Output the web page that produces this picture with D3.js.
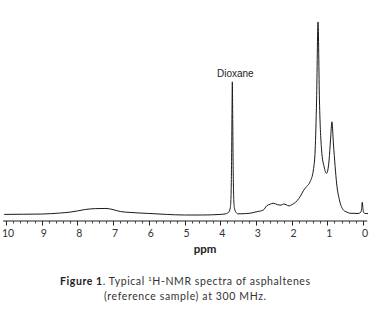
<!DOCTYPE html>
<html>
<head>
<meta charset="utf-8">
<script src="https://cdn.jsdelivr.net/npm/d3@7"></script>
<style>
  html, body { margin: 0; padding: 0; background: #fff; }
  svg { display: block; }
</style>
</head>
<body>
<svg id="chart" width="379" height="315"></svg>
<script>
// ---- data ----
const ppm = [10.05, 9.5, 9.0, 8.5, 8.2, 8.0, 7.8, 7.5, 7.2, 7.0, 6.8, 6.5, 6.0, 5.5, 5.0, 4.5, 4.0, 3.85,
  3.76, 3.72, 3.70, 3.68, 3.67, 3.66, 3.65, 3.64, 3.62, 3.60, 3.56, 3.50,
  3.3, 3.17, 3.0, 2.79, 2.70, 2.60, 2.51, 2.40, 2.30, 2.22, 2.15, 2.07, 2.00, 1.90, 1.80, 1.76, 1.67, 1.58, 1.48,
  1.39, 1.34, 1.30, 1.26, 1.22, 1.16, 1.09, 1.02, 0.95, 0.91, 0.87, 0.83, 0.78, 0.74, 0.66, 0.55, 0.45, 0.36,
  0.14, 0.06, 0.04, 0.02, 0.00, -0.02, -0.06, -0.14];
const intensity = [0.3, 0.4, 0.5, 1.0, 1.5, 2.1, 2.8, 3.3, 3.4, 2.8, 1.8, 1.3, 0.8, 0.3, 0.0, 0.0, 0.3, 0.6,
  1.5, 3.5, 8, 30, 52, 69, 52, 30, 8, 3.5, 1.5, 0.6,
  0.7, 0.9, 1.6, 2.6, 4.7, 5.6, 6.1, 5.4, 5.1, 5.7, 5.3, 4.7, 5.3, 6.4, 8.5, 9.5, 12.6, 14.7, 17.3,
  23.3, 33.7, 59.6, 100, 59.6, 33.7, 25.0, 21.6, 28.5, 38.9, 48.3, 37.3, 25.0, 16.6, 7.8, 2.6, 1.5, 0.9,
  0.8, 1.5, 3, 6.6, 3, 1.2, 0.8, 0.7];
const tickValues = [10, 9, 8, 7, 6, 5, 4, 3, 2, 1, 0];
const tickLabels = ["10", "9", "8", "7", "6", "5", "4", "3", "2", "1", "0"];
const peakLabel = { text: "Dioxane", ppm: 3.66, intensity: 69 };
const axisTitle = "ppm";

// ---- drawing ----
const svg = d3.select("#chart");
const x = d3.scaleLinear().domain([10, 0]).range([6, 363]);
const y = d3.scaleLinear().domain([0, 100]).range([215, 22]);
const axisY = 221;

const data = ppm.map((p, i) => ({ p, v: intensity[i] }));

svg.append("path")
  .datum(data)
  .attr("fill", "none")
  .attr("stroke", "#1a1a1a")
  .attr("stroke-width", 1)
  .attr("d", d3.line().x(d => x(d.p)).y(d => y(d.v)).curve(d3.curveMonotoneX));

// axis
const g = svg.append("g").attr("transform", `translate(0,${axisY})`);
g.append("line")
  .attr("x1", x(10.08)).attr("x2", x(-0.12))
  .attr("stroke", "#222").attr("stroke-width", 1);
const minor = d3.range(0, 101, 2).map(d => d / 10);
g.selectAll("line.minor").data(minor).enter().append("line")
  .attr("class", "minor")
  .attr("x1", d => Math.round(x(d)) + 0.5).attr("x2", d => Math.round(x(d)) + 0.5)
  .attr("y1", 0).attr("y2", 2.5)
  .attr("stroke", "#444").attr("stroke-width", 1);
g.selectAll("line.major").data(tickValues).enter().append("line")
  .attr("class", "major")
  .attr("x1", d => Math.round(x(d)) + 0.5).attr("x2", d => Math.round(x(d)) + 0.5)
  .attr("y1", 0).attr("y2", 4.5)
  .attr("stroke", "#222").attr("stroke-width", 1);
g.selectAll("text.tick").data(tickValues).enter().append("text")
  .attr("class", "tick")
  .attr("x", d => x(d) + 2)
  .attr("y", 16)
  .attr("text-anchor", "middle")
  .attr("font-family", "Lato, 'Noto Sans', sans-serif")
  .attr("font-size", 10.5)
  .attr("fill", "#333")
  .text((d, i) => tickLabels[i]);

svg.append("text")
  .attr("x", 205).attr("y", 253)
  .attr("text-anchor", "middle")
  .attr("font-family", "Lato, 'Noto Sans', sans-serif")
  .attr("font-weight", "bold")
  .attr("font-size", 11.5)
  .attr("fill", "#222")
  .text(axisTitle);

// peak label
svg.append("text")
  .attr("x", x(peakLabel.ppm) + 3)
  .attr("y", y(peakLabel.intensity) - 5)
  .attr("text-anchor", "middle")
  .attr("font-family", "'Liberation Sans', Arial, sans-serif")
  .attr("font-size", 10)
  .attr("fill", "#222")
  .text(peakLabel.text);

// caption
const cap = svg.append("text")
  .attr("x", 60).attr("y", 285)
  .attr("textLength", 250)
  .attr("lengthAdjust", "spacing")
  .attr("font-family", "Lato, 'Noto Sans', sans-serif")
  .attr("font-size", 10.5)
  .attr("fill", "#333");
cap.append("tspan").attr("font-weight", "bold").attr("fill", "#222").text("Figure 1");
cap.append("tspan").text(". Typical ");
cap.append("tspan").attr("font-size", 6.5).attr("dy", -4).text("1");
cap.append("tspan").attr("dy", 4).text("H-NMR spectra of asphaltenes");
svg.append("text")
  .attr("x", 104).attr("y", 300)
  .attr("textLength", 162)
  .attr("lengthAdjust", "spacing")
  .attr("font-family", "Lato, 'Noto Sans', sans-serif")
  .attr("font-size", 10.5)
  .attr("fill", "#333")
  .text("(reference sample) at 300 MHz.");
</script>
</body>
</html>
